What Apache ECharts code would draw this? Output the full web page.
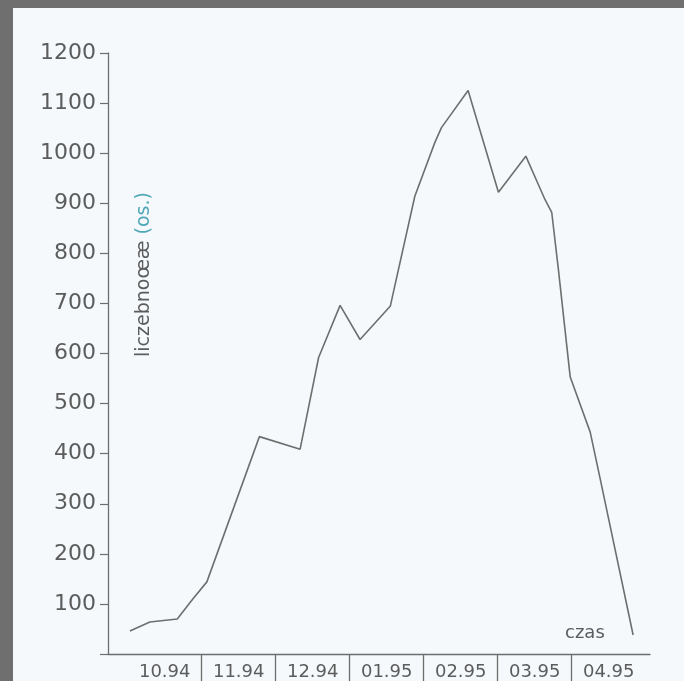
<!DOCTYPE html>
<html>
<head>
<meta charset="utf-8">
<script src="https://cdn.jsdelivr.net/npm/echarts@6/dist/echarts.min.js"></script>
<style>
  html, body { margin: 0; padding: 0; background: #6f6f6f; width: 684px; height: 681px; overflow: hidden; }
  #chart { position: absolute; left: 13px; top: 8px; width: 671px; height: 673px; }
</style>
</head>
<body>
<div id="chart"></div>
<script>
// months since 1 Oct 1994 (fractional)
const months = [0.03, 0.30, 0.67, 0.88, 1.07, 1.78, 2.33, 2.58, 2.87, 3.14, 3.55, 3.59, 3.88, 4.15, 4.24, 4.60, 5.01, 5.38, 5.64, 5.73, 5.82, 5.98, 6.25, 6.38, 6.83];
// population size (individuals)
const counts = [46, 64, 70, 110, 144, 434, 409, 592, 696, 628, 695, 722, 914, 1021, 1051, 1125, 922, 994, 907, 882, 768, 553, 443, 353, 38];
const periods = ['10.94', '11.94', '12.94', '01.95', '02.95', '03.95', '04.95'];
const yTicks = [100, 200, 300, 400, 500, 600, 700, 800, 900, 1000, 1100, 1200];

const ink = '#5c5c5c';
const lineInk = '#6e6e6e';
const font = 'DejaVu Sans';

const seriesData = months.map((m, i) => [m, counts[i]]);

const chart = echarts.init(document.getElementById('chart'));
chart.setOption({
  backgroundColor: '#f5f9fb',
  animation: false,
  grid: [
    { left: 95, right: 34, top: 45, bottom: 27, outerBoundsMode: 'none', containLabel: false },
    { left: 114.7, width: 518, top: 646, height: 27, outerBoundsMode: 'none', containLabel: false }
  ],
  xAxis: [
    {
      type: 'value', gridIndex: 0, min: -0.266, max: 7.058,
      axisLine: { show: true, onZero: false, lineStyle: { color: lineInk, width: 1.3 } },
      axisTick: { show: false }, axisLabel: { show: false }, splitLine: { show: false },
      name: 'czas', nameLocation: 'end', nameGap: -85,
      nameTextStyle: { color: ink, fontFamily: font, fontSize: 18, verticalAlign: 'bottom', padding: [0, 0, 12, 0] }
    },
    {
      type: 'category', gridIndex: 1, data: periods, position: 'top', boundaryGap: true,
      axisLine: { show: false }, axisTick: { show: false },
      axisLabel: { inside: true, margin: 9, color: ink, fontFamily: font, fontSize: 18 },
      splitLine: { show: true, lineStyle: { color: ['rgba(0,0,0,0)', lineInk, lineInk, lineInk, lineInk, lineInk, lineInk, 'rgba(0,0,0,0)'], width: 1.3 } }
    }
  ],
  yAxis: [
    {
      type: 'value', gridIndex: 0, min: 0, max: 1200, interval: 100,
      axisLine: { show: true, onZero: false, lineStyle: { color: lineInk, width: 1.3 } },
      axisTick: { show: true, length: 8, lineStyle: { color: lineInk, width: 1.2 } },
      axisLabel: {
        color: ink, fontFamily: font, fontSize: 22, margin: 12,
        formatter: v => (yTicks.indexOf(v) >= 0 ? String(v) : '')
      },
      splitLine: { show: false },
      name: 'liczebnoœæ {b|(os.)}', nameLocation: 'middle', nameRotate: 90, nameGap: -46,
      nameTextStyle: {
        color: ink, fontFamily: font, fontSize: 19, padding: [0, 0, 0, 158],
        rich: { b: { color: '#4fa7b8', fontFamily: font, fontSize: 19 } }
      }
    },
    { type: 'value', gridIndex: 1, show: false }
  ],
  series: [{
    type: 'line', xAxisIndex: 0, yAxisIndex: 0, data: seriesData,
    symbol: 'none', lineStyle: { color: lineInk, width: 1.6 }
  }]
});
</script>
</body>
</html>
